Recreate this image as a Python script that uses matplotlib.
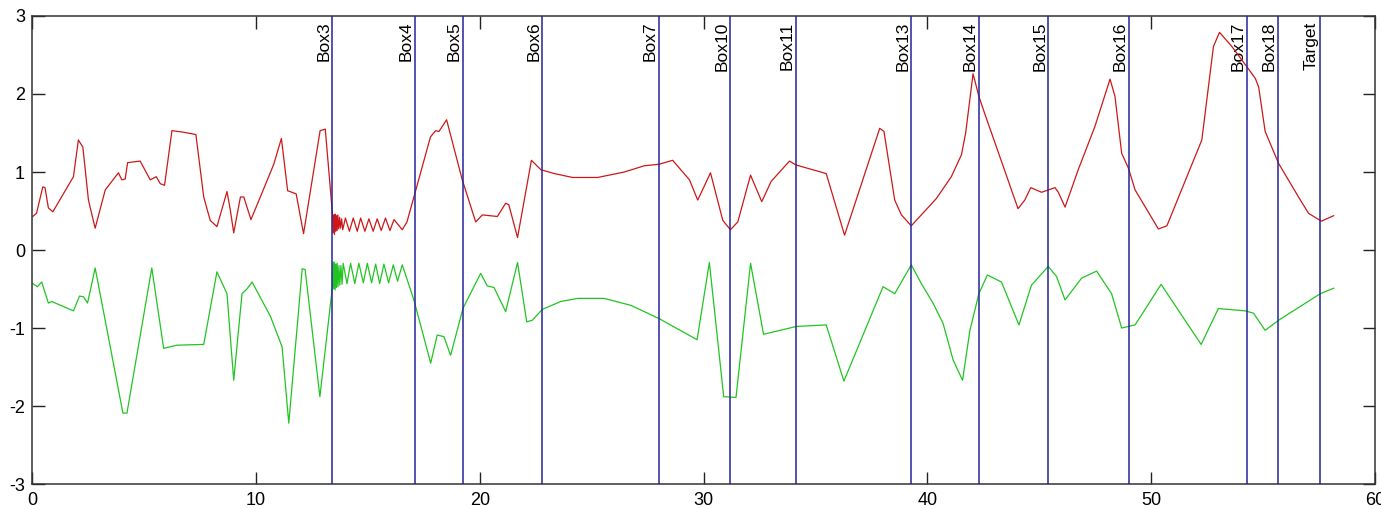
import numpy as np
import matplotlib.pyplot as plt

# red trace (upper)
red_x = [0.03, 0.2, 0.48, 0.58, 0.73, 0.93, 1.85, 2.07, 2.27, 2.52, 2.82, 3.27, 3.86, 4.01, 4.16, 4.27,
         4.83, 5.28, 5.55, 5.73, 5.92, 6.25, 6.77, 7.32, 7.67, 7.96, 8.26, 8.71, 8.86, 9.01, 9.31, 9.46,
         9.78, 10.3, 10.8, 11.14, 11.42, 11.8, 12.13, 12.87, 13.1, 13.42,
         13.45, 13.48, 13.51, 13.54, 13.57, 13.6, 13.63, 13.66, 13.7, 13.74, 13.78, 13.83, 13.88,
         14.0, 14.18, 14.35, 14.53, 14.68, 14.87, 15.05, 15.24, 15.42, 15.6, 15.79, 15.99, 16.17, 16.54,
         16.75, 17.06, 17.8, 18.03, 18.18, 18.52, 19.22, 19.82, 20.12, 20.79, 21.16, 21.3, 21.69, 22.31,
         22.73, 23.33, 24.15, 25.27, 26.46, 27.35, 28.02, 28.62, 29.37, 29.74, 30.31, 30.86, 31.2, 31.53,
         32.1, 32.6, 33.02, 33.84, 34.13, 35.48, 36.3, 37.87, 38.06, 38.54, 38.84, 39.28, 40.4, 41.07,
         41.52, 41.71, 42.04, 42.3, 42.56, 44.05, 44.35, 44.62, 45.1, 45.7, 45.85, 46.15, 46.74, 47.48,
         48.16, 48.38, 48.68, 48.98, 49.28, 50.32, 50.7, 52.26, 52.78, 53.05, 53.6, 54.27, 54.65, 54.8,
         55.09, 55.69, 56.58, 57.03, 57.6, 58.15]
red_y = [0.43, 0.47, 0.81, 0.80, 0.54, 0.49, 0.94, 1.41, 1.32, 0.64, 0.28, 0.77, 0.99, 0.90, 0.91, 1.12,
         1.14, 0.90, 0.94, 0.85, 0.83, 1.53, 1.51, 1.48, 0.68, 0.38, 0.30, 0.75, 0.51, 0.22, 0.68, 0.68,
         0.39, 0.75, 1.10, 1.43, 0.76, 0.72, 0.21, 1.53, 1.55, 0.47,
         0.22, 0.45, 0.20, 0.46, 0.24, 0.44, 0.25, 0.45, 0.27, 0.42, 0.28, 0.40, 0.26,
         0.41, 0.24, 0.41, 0.24, 0.41, 0.24, 0.40, 0.24, 0.40, 0.25, 0.41, 0.25, 0.39, 0.26,
         0.36, 0.68, 1.45, 1.53, 1.52, 1.67, 0.90, 0.36, 0.45, 0.43, 0.60, 0.58, 0.16, 1.15,
         1.03, 0.98, 0.93, 0.93, 1.00, 1.08, 1.10, 1.15, 0.90, 0.64, 0.99, 0.38, 0.26, 0.36,
         0.96, 0.62, 0.88, 1.14, 1.09, 0.98, 0.19, 1.56, 1.52, 0.64, 0.45, 0.31, 0.66, 0.94,
         1.22, 1.50, 2.26, 1.97, 1.75, 0.53, 0.64, 0.80, 0.74, 0.80, 0.74, 0.55, 1.03, 1.58,
         2.19, 1.97, 1.24, 1.05, 0.77, 0.27, 0.31, 1.41, 2.61, 2.79, 2.61, 2.35, 2.20, 2.09,
         1.52, 1.11, 0.68, 0.47, 0.37, 0.44]

# green trace (lower)
green_x = [0.03, 0.24, 0.43, 0.73, 0.88, 1.85, 2.12, 2.3, 2.48, 2.82, 4.06, 4.24, 5.35, 5.88, 6.47, 7.67,
           8.26, 8.71, 9.01, 9.38, 9.6, 9.83, 10.65, 11.17, 11.47, 12.07, 12.2, 12.86, 13.42,
           13.45, 13.48, 13.51, 13.54, 13.57, 13.6, 13.63, 13.67, 13.71, 13.75, 13.8, 13.85,
           13.9, 14.07, 14.23, 14.42, 14.6, 14.8, 14.98, 15.17, 15.35, 15.53, 15.72, 15.93, 16.14, 16.33,
           16.54, 17.06, 17.81, 18.1, 18.4, 18.7, 19.25, 20.04, 20.34, 20.64, 21.16, 21.69, 22.1, 22.35,
           22.8, 23.62, 24.37, 25.56, 26.76, 28.02, 29.71, 30.26, 30.9, 31.45, 32.1, 32.68, 34.14, 35.48,
           36.27, 38.02, 38.54, 39.28, 39.73, 40.25, 40.7, 41.15, 41.57, 41.9, 42.3, 42.68, 43.31, 44.09,
           44.65, 45.4, 45.77, 46.15, 46.89, 47.56, 48.23, 48.68, 49.28, 50.44, 52.23, 53.0, 54.2, 54.57,
           55.09, 55.69, 56.73, 57.55, 58.15]
green_y = [-0.43, -0.47, -0.41, -0.68, -0.66, -0.78, -0.59, -0.60, -0.68, -0.23, -2.09, -2.09, -0.23, -1.26,
           -1.22, -1.21, -0.28, -0.56, -1.67, -0.56, -0.50, -0.41, -0.85, -1.24, -2.22, -0.24, -0.25, -1.88,
           -0.47,
           -0.15, -0.50, -0.16, -0.51, -0.18, -0.48, -0.17, -0.47, -0.20, -0.45, -0.20, -0.44,
           -0.17, -0.43, -0.17, -0.43, -0.17, -0.42, -0.17, -0.42, -0.18, -0.43, -0.18, -0.42, -0.19, -0.40,
           -0.19, -0.64, -1.45, -1.09, -1.11, -1.35, -0.75, -0.30, -0.46, -0.48, -0.79, -0.16, -0.92, -0.90,
           -0.76, -0.66, -0.62, -0.62, -0.71, -0.88, -1.15, -0.16, -1.88, -1.89, -0.17, -1.08, -0.98, -0.96,
           -1.68, -0.47, -0.56, -0.19, -0.43, -0.68, -0.94, -1.41, -1.67, -1.03, -0.56, -0.32, -0.41, -0.96,
           -0.45, -0.21, -0.34, -0.64, -0.36, -0.27, -0.56, -1.00, -0.96, -0.44, -1.21, -0.75, -0.78, -0.81,
           -1.03, -0.90, -0.71, -0.56, -0.49]

# marker positions
box_x = [13.42, 17.09, 19.24, 22.8, 28.02, 31.2, 34.14, 39.28, 42.3, 45.4, 48.99, 54.27, 55.66, 57.55]
box_names = ['Box3', 'Box4', 'Box5', 'Box6', 'Box7', 'Box10', 'Box11', 'Box13', 'Box14', 'Box15',
             'Box16', 'Box17', 'Box18', 'Target']

plt.rcParams['font.family'] = ['Liberation Sans', 'DejaVu Sans']
plt.rcParams['axes.unicode_minus'] = False

fig = plt.figure(figsize=(13.81, 5.09), dpi=100)
ax = fig.add_axes([0.0232, 0.049, 0.9725, 0.9196])

ax.plot(red_x, red_y, color='#cc1818', lw=0.9, zorder=2)
ax.plot(green_x, green_y, color='#22c422', lw=0.9, zorder=2)

for bx, name in zip(box_x, box_names):
    ax.axvline(bx, color='#25259a', lw=1.1, zorder=3)
    ax.text(bx - 0.05, 2.93, name, rotation=90, ha='right', va='top', fontsize=12.5, zorder=1.5)

ax.set_xlim(0, 60)
ax.set_ylim(-3, 3)
ax.set_xticks(np.arange(0, 61, 10))
ax.set_yticks(np.arange(-3, 4, 1))
ax.tick_params(direction='in', length=9, width=1, top=True, right=True, labelsize=13, color='#222222')
ax.tick_params(axis='x', pad=6)
ax.tick_params(axis='y', pad=5)
for s in ax.spines.values():
    s.set_color('#333333')
    s.set_linewidth(1.1)

plt.savefig('out.png', dpi=100)
